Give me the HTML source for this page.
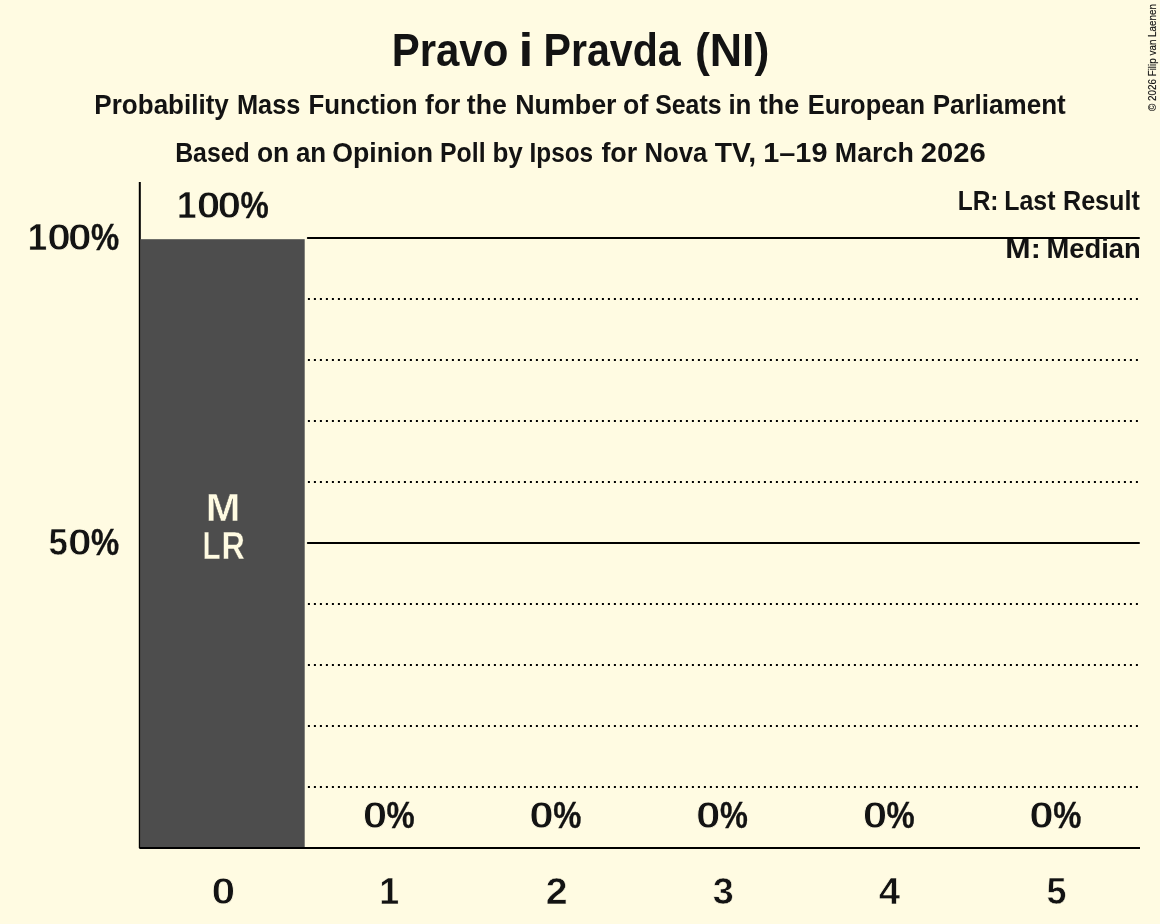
<!DOCTYPE html>
<html><head><meta charset="utf-8"><title>Pravo i Pravda (NI)</title>
<style>
html,body{margin:0;padding:0;background:#FFFBE2;}
body{width:1160px;height:924px;overflow:hidden;}
svg{display:block;will-change:transform;}
text{font-family:"Liberation Sans",sans-serif;font-weight:bold;white-space:pre;}
</style></head><body>
<svg width="1160" height="924" viewBox="0 0 1160 924">
<rect x="0" y="0" width="1160" height="924" fill="#FFFBE2"/>
<line x1="307.8" y1="238" x2="1139" y2="238" stroke="#000" stroke-width="2" stroke-linecap="round"/>
<line x1="307.8" y1="543" x2="1139" y2="543" stroke="#000" stroke-width="2" stroke-linecap="round"/>
<line x1="307.9" y1="299" x2="1140" y2="299" stroke="#000" stroke-width="2" stroke-dasharray="2 4"/>
<line x1="307.9" y1="360" x2="1140" y2="360" stroke="#000" stroke-width="2" stroke-dasharray="2 4"/>
<line x1="307.9" y1="421" x2="1140" y2="421" stroke="#000" stroke-width="2" stroke-dasharray="2 4"/>
<line x1="307.9" y1="482" x2="1140" y2="482" stroke="#000" stroke-width="2" stroke-dasharray="2 4"/>
<line x1="307.9" y1="604" x2="1140" y2="604" stroke="#000" stroke-width="2" stroke-dasharray="2 4"/>
<line x1="307.9" y1="665" x2="1140" y2="665" stroke="#000" stroke-width="2" stroke-dasharray="2 4"/>
<line x1="307.9" y1="726" x2="1140" y2="726" stroke="#000" stroke-width="2" stroke-dasharray="2 4"/>
<line x1="307.9" y1="787" x2="1140" y2="787" stroke="#000" stroke-width="2" stroke-dasharray="2 4"/>
<path d="M139.8 182 V848 H1140" fill="none" stroke="#000" stroke-width="2" stroke-linejoin="bevel"/>
<rect x="140.2" y="239.2" width="164.5" height="607.8" fill="#4D4D4D"/>
<text x="391.71" y="65.80" font-size="46.5" fill="#131313" textLength="116.66" lengthAdjust="spacingAndGlyphs">Pravo</text>
<text x="518.46" y="65.80" font-size="46.5" fill="#131313" textLength="14.87" lengthAdjust="spacingAndGlyphs">i</text>
<text x="543.46" y="65.80" font-size="46.5" fill="#131313" textLength="137.19" lengthAdjust="spacingAndGlyphs">Pravda</text>
<text x="694.90" y="65.80" font-size="46.5" fill="#131313" textLength="74.59" lengthAdjust="spacingAndGlyphs">(NI)</text>
<text x="94.36" y="113.90" font-size="28" fill="#131313" textLength="134.48" lengthAdjust="spacingAndGlyphs">Probability</text>
<text x="236.96" y="113.90" font-size="28" fill="#131313" textLength="63.54" lengthAdjust="spacingAndGlyphs">Mass</text>
<text x="308.54" y="113.90" font-size="28" fill="#131313" textLength="109.12" lengthAdjust="spacingAndGlyphs">Function</text>
<text x="425.12" y="113.90" font-size="28" fill="#131313" textLength="35.26" lengthAdjust="spacingAndGlyphs">for</text>
<text x="466.76" y="113.90" font-size="28" fill="#131313" textLength="39.99" lengthAdjust="spacingAndGlyphs">the</text>
<text x="515.16" y="113.90" font-size="28" fill="#131313" textLength="101.33" lengthAdjust="spacingAndGlyphs">Number</text>
<text x="623.09" y="113.90" font-size="28" fill="#131313" textLength="25.21" lengthAdjust="spacingAndGlyphs">of</text>
<text x="655.17" y="113.90" font-size="28" fill="#131313" textLength="66.32" lengthAdjust="spacingAndGlyphs">Seats</text>
<text x="728.42" y="113.90" font-size="28" fill="#131313" textLength="23.00" lengthAdjust="spacingAndGlyphs">in</text>
<text x="758.76" y="113.90" font-size="28" fill="#131313" textLength="40.40" lengthAdjust="spacingAndGlyphs">the</text>
<text x="807.65" y="113.90" font-size="28" fill="#131313" textLength="117.46" lengthAdjust="spacingAndGlyphs">European</text>
<text x="932.66" y="113.90" font-size="28" fill="#131313" textLength="133.08" lengthAdjust="spacingAndGlyphs">Parliament</text>
<text x="175.14" y="161.80" font-size="28" fill="#131313" textLength="74.62" lengthAdjust="spacingAndGlyphs">Based</text>
<text x="256.91" y="161.80" font-size="28" fill="#131313" textLength="32.33" lengthAdjust="spacingAndGlyphs">on</text>
<text x="295.96" y="161.80" font-size="28" fill="#131313" textLength="30.26" lengthAdjust="spacingAndGlyphs">an</text>
<text x="332.30" y="161.80" font-size="28" fill="#131313" textLength="100.84" lengthAdjust="spacingAndGlyphs">Opinion</text>
<text x="440.03" y="161.80" font-size="28" fill="#131313" textLength="45.54" lengthAdjust="spacingAndGlyphs">Poll</text>
<text x="492.41" y="161.80" font-size="28" fill="#131313" textLength="30.43" lengthAdjust="spacingAndGlyphs">by</text>
<text x="529.46" y="161.80" font-size="28" fill="#131313" textLength="63.74" lengthAdjust="spacingAndGlyphs">Ipsos</text>
<text x="601.42" y="161.80" font-size="28" fill="#131313" textLength="35.87" lengthAdjust="spacingAndGlyphs">for</text>
<text x="644.39" y="161.80" font-size="28" fill="#131313" textLength="62.86" lengthAdjust="spacingAndGlyphs">Nova</text>
<text x="714.75" y="161.80" font-size="28" fill="#131313" textLength="41.51" lengthAdjust="spacingAndGlyphs">TV,</text>
<text x="763.26" y="161.80" font-size="28" fill="#131313" textLength="64.24" lengthAdjust="spacingAndGlyphs">1–19</text>
<text x="834.84" y="161.80" font-size="28" fill="#131313" textLength="78.92" lengthAdjust="spacingAndGlyphs">March</text>
<text x="920.72" y="161.80" font-size="28" fill="#131313" textLength="65.07" lengthAdjust="spacingAndGlyphs">2026</text>
<text x="957.71" y="210.00" font-size="28.5" fill="#131313" textLength="40.81" lengthAdjust="spacingAndGlyphs">LR:</text>
<text x="1004.28" y="210.00" font-size="28.5" fill="#131313" textLength="51.16" lengthAdjust="spacingAndGlyphs">Last</text>
<text x="1062.97" y="210.00" font-size="28.5" fill="#131313" textLength="76.87" lengthAdjust="spacingAndGlyphs">Result</text>
<text x="1005.38" y="257.90" font-size="28.5" fill="#131313" textLength="35.43" lengthAdjust="spacingAndGlyphs">M:</text>
<text x="1046.54" y="257.90" font-size="28.5" fill="#131313" textLength="94.22" lengthAdjust="spacingAndGlyphs">Median</text>
<text x="27.71" y="249.80" font-size="37.7" fill="#131313" stroke="#FFFBE2" stroke-width="0.3" stroke-linejoin="round" textLength="19.31" lengthAdjust="spacingAndGlyphs">1</text>
<text x="47.28" y="249.80" font-size="37.7" fill="#131313" stroke="#FFFBE2" stroke-width="0.8" stroke-linejoin="round" textLength="23.63" lengthAdjust="spacingAndGlyphs">0</text>
<text x="68.00" y="249.80" font-size="37.7" fill="#131313" stroke="#FFFBE2" stroke-width="0.8" stroke-linejoin="round" textLength="23.63" lengthAdjust="spacingAndGlyphs">0</text>
<text x="90.98" y="249.80" font-size="37.7" fill="#131313" stroke="#131313" stroke-width="0.35" stroke-linejoin="round" textLength="28.14" lengthAdjust="spacingAndGlyphs">%</text>
<text x="48.62" y="554.80" font-size="37.7" fill="#131313" stroke="#FFFBE2" stroke-width="0.6" stroke-linejoin="round" textLength="19.41" lengthAdjust="spacingAndGlyphs">5</text>
<text x="68.00" y="554.80" font-size="37.7" fill="#131313" stroke="#FFFBE2" stroke-width="0.8" stroke-linejoin="round" textLength="23.63" lengthAdjust="spacingAndGlyphs">0</text>
<text x="90.98" y="554.80" font-size="37.7" fill="#131313" stroke="#131313" stroke-width="0.35" stroke-linejoin="round" textLength="28.14" lengthAdjust="spacingAndGlyphs">%</text>
<text x="177.01" y="217.80" font-size="37.7" fill="#131313" stroke="#FFFBE2" stroke-width="0.3" stroke-linejoin="round" textLength="19.41" lengthAdjust="spacingAndGlyphs">1</text>
<text x="196.78" y="217.80" font-size="37.7" fill="#131313" stroke="#FFFBE2" stroke-width="0.8" stroke-linejoin="round" textLength="23.63" lengthAdjust="spacingAndGlyphs">0</text>
<text x="217.50" y="217.80" font-size="37.7" fill="#131313" stroke="#FFFBE2" stroke-width="0.8" stroke-linejoin="round" textLength="23.63" lengthAdjust="spacingAndGlyphs">0</text>
<text x="240.48" y="217.80" font-size="37.7" fill="#131313" stroke="#131313" stroke-width="0.35" stroke-linejoin="round" textLength="28.23" lengthAdjust="spacingAndGlyphs">%</text>
<text x="205.68" y="521.00" font-size="38" fill="#FFFBE2" stroke="#4D4D4D" stroke-width="0.45" stroke-linejoin="round" textLength="34.75" lengthAdjust="spacingAndGlyphs">M</text>
<text x="202.51" y="559.00" font-size="38" fill="#FFFBE2" stroke="#4D4D4D" stroke-width="0.45" stroke-linejoin="round" textLength="18.11" lengthAdjust="spacingAndGlyphs">L</text>
<text x="221.62" y="559.00" font-size="38" fill="#FFFBE2" stroke="#4D4D4D" stroke-width="0.45" stroke-linejoin="round" textLength="23.40" lengthAdjust="spacingAndGlyphs">R</text>
<text x="362.76" y="827.80" font-size="37.7" fill="#131313" stroke="#FFFBE2" stroke-width="0.8" stroke-linejoin="round" textLength="24.53" lengthAdjust="spacingAndGlyphs">0</text>
<text x="386.48" y="827.80" font-size="37.7" fill="#131313" stroke="#131313" stroke-width="0.35" stroke-linejoin="round" textLength="28.14" lengthAdjust="spacingAndGlyphs">%</text>
<text x="529.25" y="827.80" font-size="37.7" fill="#131313" stroke="#FFFBE2" stroke-width="0.8" stroke-linejoin="round" textLength="24.53" lengthAdjust="spacingAndGlyphs">0</text>
<text x="553.23" y="827.80" font-size="37.7" fill="#131313" stroke="#131313" stroke-width="0.35" stroke-linejoin="round" textLength="28.12" lengthAdjust="spacingAndGlyphs">%</text>
<text x="696.02" y="827.80" font-size="37.7" fill="#131313" stroke="#FFFBE2" stroke-width="0.8" stroke-linejoin="round" textLength="24.53" lengthAdjust="spacingAndGlyphs">0</text>
<text x="719.99" y="827.80" font-size="37.7" fill="#131313" stroke="#131313" stroke-width="0.35" stroke-linejoin="round" textLength="27.86" lengthAdjust="spacingAndGlyphs">%</text>
<text x="862.76" y="827.80" font-size="37.7" fill="#131313" stroke="#FFFBE2" stroke-width="0.8" stroke-linejoin="round" textLength="24.53" lengthAdjust="spacingAndGlyphs">0</text>
<text x="886.48" y="827.80" font-size="37.7" fill="#131313" stroke="#131313" stroke-width="0.35" stroke-linejoin="round" textLength="28.14" lengthAdjust="spacingAndGlyphs">%</text>
<text x="1029.25" y="827.80" font-size="37.7" fill="#131313" stroke="#FFFBE2" stroke-width="0.8" stroke-linejoin="round" textLength="24.53" lengthAdjust="spacingAndGlyphs">0</text>
<text x="1053.23" y="827.80" font-size="37.7" fill="#131313" stroke="#131313" stroke-width="0.35" stroke-linejoin="round" textLength="28.12" lengthAdjust="spacingAndGlyphs">%</text>
<text x="211.49" y="904.00" font-size="37.7" fill="#131313" stroke="#FFFBE2" stroke-width="0.8" stroke-linejoin="round" textLength="23.72" lengthAdjust="spacingAndGlyphs">0</text>
<text x="379.51" y="904.00" font-size="37.7" fill="#131313" stroke="#FFFBE2" stroke-width="0.3" stroke-linejoin="round" textLength="19.56" lengthAdjust="spacingAndGlyphs">1</text>
<text x="545.65" y="904.00" font-size="37.7" fill="#131313" stroke="#FFFBE2" stroke-width="0.6" stroke-linejoin="round" textLength="21.90" lengthAdjust="spacingAndGlyphs">2</text>
<text x="712.80" y="904.00" font-size="37.7" fill="#131313" stroke="#FFFBE2" stroke-width="0.6" stroke-linejoin="round" textLength="21.10" lengthAdjust="spacingAndGlyphs">3</text>
<text x="878.87" y="904.00" font-size="37.7" fill="#131313" stroke="#FFFBE2" stroke-width="0.6" stroke-linejoin="round" textLength="21.40" lengthAdjust="spacingAndGlyphs">4</text>
<text x="1046.57" y="904.00" font-size="37.7" fill="#131313" stroke="#FFFBE2" stroke-width="0.6" stroke-linejoin="round" textLength="20.01" lengthAdjust="spacingAndGlyphs">5</text>
<text transform="translate(1155.9 111) rotate(-90)" font-size="11" style="font-weight:normal" fill="#111" stroke="#111" stroke-width="0.15" textLength="107" lengthAdjust="spacingAndGlyphs">© 2026 Filip van Laenen</text>
</svg>
</body></html>
